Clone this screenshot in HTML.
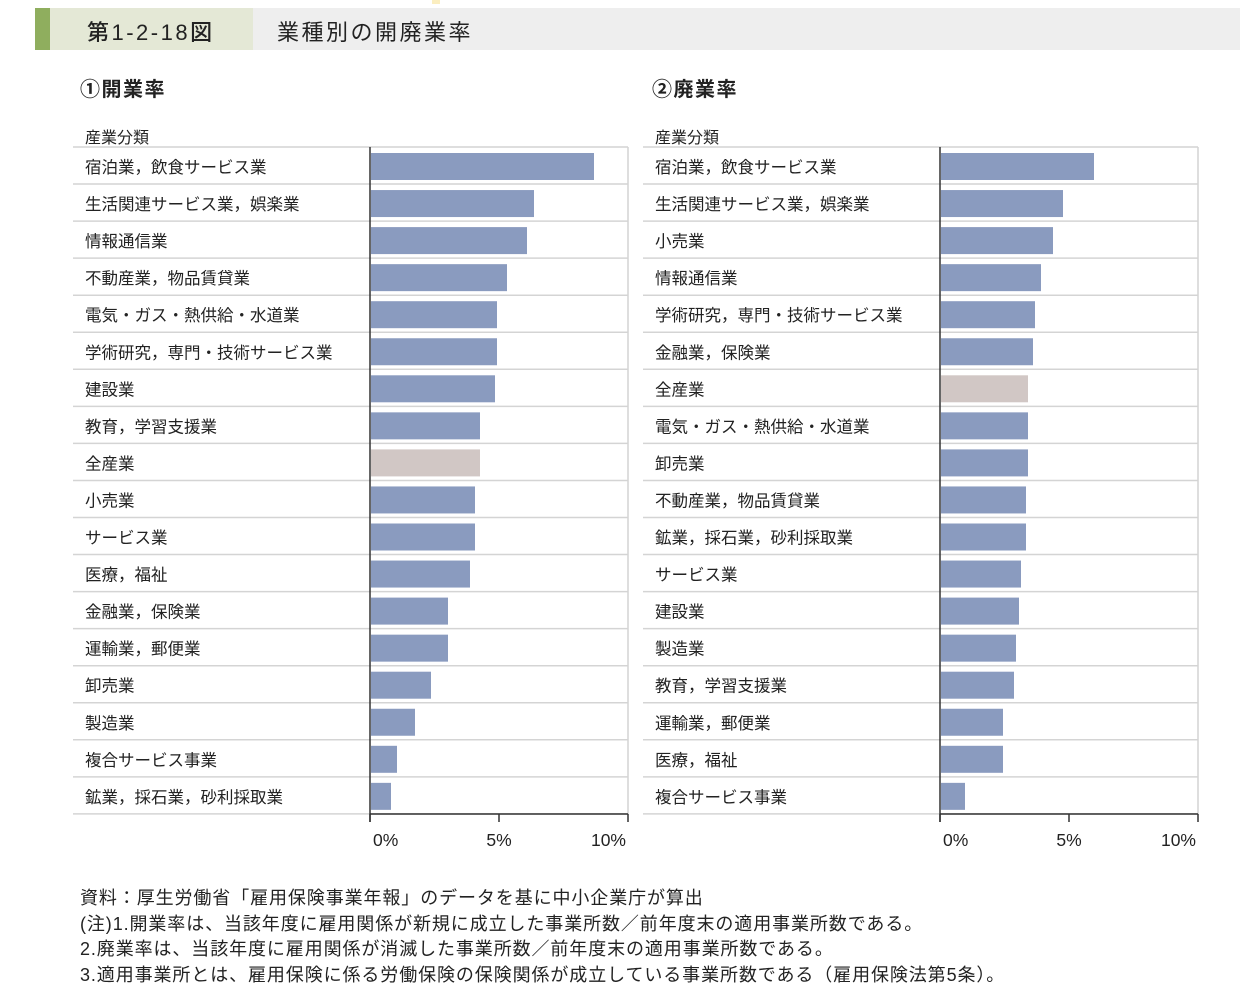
<!DOCTYPE html><html><head><meta charset="utf-8"><style>
body{margin:0;width:1254px;height:994px;background:#fff;font-family:"Liberation Sans","Noto Sans CJK JP",sans-serif;color:#222;position:relative;overflow:hidden}
.a{position:absolute;white-space:nowrap}
</style></head><body>
<div class="a" style="left:432px;top:0;width:8px;height:4px;background:#fbeec0"></div>
<div class="a" style="left:35px;top:8px;width:1205px;height:42px;background:#eeeeee"></div>
<div class="a" style="left:35px;top:8px;width:15px;height:42px;background:#8fae5e"></div>
<div class="a" style="left:50px;top:8px;width:203px;height:42px;background:#e4e8d6"></div>
<div class="a" style="left:87px;top:15px;font-size:22px;letter-spacing:2.5px;font-weight:500">第1-2-18図</div>
<div class="a" style="left:277px;top:15px;font-size:22px;letter-spacing:2.5px">業種別の開廃業率</div>
<div class="a" style="left:80px;top:73px;font-size:20px;letter-spacing:1.5px;font-weight:bold">①開業率</div>
<div class="a" style="left:652px;top:73px;font-size:20px;letter-spacing:1.5px;font-weight:bold">②廃業率</div>
<svg class="a" style="left:0;top:0" width="1254" height="994" font-family="Liberation Sans, Noto Sans CJK JP, sans-serif" font-size="16.5" fill="#222">
<g id="c"></g>
</svg>
<script>
function chart(x0,lx,labels,ends,gray){
 var s='';var top=147,h=37.05,ax=x0,right=x0+258;
 s+='<text x="'+(lx)+'" y="'+(top-4)+'" font-size="16">産業分類</text>';
 for(var i=0;i<=18;i++){var y=top+i*h;s+='<line x1="'+(lx-12)+'" x2="'+right+'" y1="'+y+'" y2="'+y+'" stroke="#d4d4d4" stroke-width="1.5"/>';}
 s+='<line x1="'+right+'" x2="'+right+'" y1="'+top+'" y2="814" stroke="#d4d4d4" stroke-width="1.5"/>';
 for(var i=0;i<18;i++){var y=top+i*h;
  s+='<text x="'+lx+'" y="'+(y+26)+'">'+labels[i]+'</text>';
  s+='<rect x="'+(ax+1)+'" y="'+(y+6)+'" width="'+(ends[i]-ax-1)+'" height="27" fill="'+(i==gray?'#d1c7c5':'#8a9bbf')+'"/>';}
 s+='<line x1="'+ax+'" x2="'+ax+'" y1="'+top+'" y2="822" stroke="#333" stroke-width="1.5"/>';
 s+='<line x1="'+ax+'" x2="'+right+'" y1="814" y2="814" stroke="#333" stroke-width="1.5"/>';
 [0,5,10].forEach(function(v,k){var x=ax+v*25.8;s+='<line x1="'+x+'" x2="'+x+'" y1="814" y2="822" stroke="#333" stroke-width="1.5"/>';
  s+='<text x="'+(x+(k==2?-2:k==1?0:3))+'" y="846" font-size="17.5" text-anchor="'+(k==2?'end':k==1?'middle':'start')+'">'+v+'%</text>';});
 return s;}
var c=chart(370,85,["宿泊業，飲食サービス業","生活関連サービス業，娯楽業","情報通信業","不動産業，物品賃貸業","電気・ガス・熱供給・水道業","学術研究，専門・技術サービス業","建設業","教育，学習支援業","全産業","小売業","サービス業","医療，福祉","金融業，保険業","運輸業，郵便業","卸売業","製造業","複合サービス事業","鉱業，採石業，砂利採取業"],
[594,534,527,507,497,497,495,480,480,475,475,470,448,448,431,415,397,391],8);
c+=chart(940,655,["宿泊業，飲食サービス業","生活関連サービス業，娯楽業","小売業","情報通信業","学術研究，専門・技術サービス業","金融業，保険業","全産業","電気・ガス・熱供給・水道業","卸売業","不動産業，物品賃貸業","鉱業，採石業，砂利採取業","サービス業","建設業","製造業","教育，学習支援業","運輸業，郵便業","医療，福祉","複合サービス事業"],
[1094,1063,1053,1041,1035,1033,1028,1028,1028,1026,1026,1021,1019,1016,1014,1003,1003,965],6);
document.getElementById('c').innerHTML=c;
</script>
<div class="a" style="left:80px;top:886px;font-size:18px;letter-spacing:0.9px;line-height:25.5px">資料：厚生労働省「雇用保険事業年報」のデータを基に中小企業庁が算出<br>(注)1.開業率は、当該年度に雇用関係が新規に成立した事業所数／前年度末の適用事業所数である。<br>2.廃業率は、当該年度に雇用関係が消滅した事業所数／前年度末の適用事業所数である。<br>3.適用事業所とは、雇用保険に係る労働保険の保険関係が成立している事業所数である（雇用保険法第5条）。</div>
</body></html>
